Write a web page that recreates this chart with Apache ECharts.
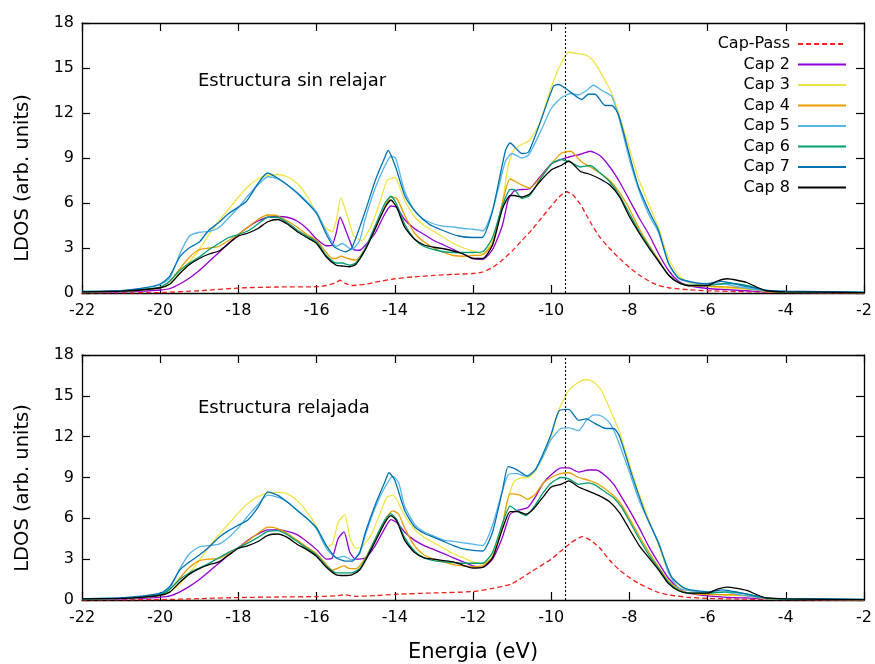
<!DOCTYPE html>
<html>
<head>
<meta charset="utf-8">
<script src="https://cdn.jsdelivr.net/npm/echarts@6/dist/echarts.min.js"></script>
<style>html,body{margin:0;padding:0;background:#fff}#c{width:875px;height:664px}</style>
</head>
<body>
<div id="c"></div>
<script>
// ---------- data ----------
const xTicks = [-22, -20, -18, -16, -14, -12, -10, -8, -6, -4, -2];
const yTicks = [0, 3, 6, 9, 12, 15, 18];
const fermiLevel = -9.65;
const seriesNames = ['Cap-Pass', 'Cap 2', 'Cap 3', 'Cap 4', 'Cap 5', 'Cap 6', 'Cap 7', 'Cap 8'];
const panelTitles = ['Estructura sin relajar', 'Estructura relajada'];

// Top panel (sin relajar): [energy, LDOS]
const top_pass = [[-22,0],[-20,0.03],[-19,0.15],[-18,0.33],[-17,0.4],[-16,0.42],[-15.75,0.5],[-15.5,0.7],[-15.4,0.85],[-15.25,0.62],[-15.1,0.5],[-14.75,0.58],[-14.5,0.72],[-14,0.95],[-13.5,1.08],[-13,1.17],[-12.5,1.24],[-12,1.3],[-11.75,1.4],[-11.5,1.7],[-11.25,2.2],[-11,2.8],[-10.75,3.5],[-10.5,4.2],[-10.25,5.0],[-10,5.8],[-9.8,6.4],[-9.62,6.75],[-9.45,6.55],[-9.25,5.9],[-9.1,5.2],[-8.95,4.5],[-8.75,3.7],[-8.5,2.95],[-8.25,2.3],[-8,1.7],[-7.75,1.2],[-7.5,0.8],[-7.25,0.5],[-7,0.35],[-6.5,0.22],[-6,0.15],[-5,0.08],[-4,0.03],[-2,0]];
const top_c2 = [[-22,0.05],[-21,0.08],[-20.5,0.12],[-20,0.2],[-19.75,0.3],[-19.5,0.6],[-19.25,1.0],[-19,1.5],[-18.75,2.1],[-18.5,2.7],[-18.25,3.3],[-18,3.9],[-17.75,4.4],[-17.5,4.8],[-17.25,5.05],[-17,5.1],[-16.75,5.05],[-16.5,4.8],[-16.25,4.3],[-16,3.6],[-15.75,3.15],[-15.6,3.2],[-15.5,4.0],[-15.4,5.05],[-15.2,3.8],[-15.05,2.9],[-14.9,2.85],[-14.75,3.2],[-14.5,4.0],[-14.25,5.3],[-14.1,5.8],[-13.95,5.7],[-13.75,4.9],[-13.5,4.3],[-13.25,3.9],[-13,3.5],[-12.75,3.2],[-12.5,2.9],[-12.25,2.6],[-12,2.3],[-11.75,2.25],[-11.5,2.9],[-11.25,4.5],[-11.1,6.2],[-10.95,6.8],[-10.75,6.9],[-10.55,6.95],[-10.3,7.7],[-10,8.6],[-9.75,8.9],[-9.5,9.1],[-9.25,9.25],[-9,9.45],[-8.75,9.15],[-8.5,8.4],[-8.25,7.4],[-8,6.2],[-7.75,5.0],[-7.5,3.9],[-7.25,2.6],[-7,1.5],[-6.75,0.8],[-6.5,0.5],[-6,0.3],[-5.5,0.22],[-5,0.15],[-4.5,0.08],[-4,0.05],[-2,0.02]];
const top_c3 = [[-22,0.08],[-21,0.12],[-20.5,0.2],[-20,0.35],[-19.75,0.6],[-19.5,1.3],[-19.25,2.1],[-19,2.9],[-18.75,3.9],[-18.5,4.8],[-18.25,5.6],[-18,6.4],[-17.75,7.1],[-17.5,7.6],[-17.25,7.85],[-17,7.9],[-16.75,7.75],[-16.5,7.3],[-16.25,6.5],[-16,5.3],[-15.75,4.3],[-15.6,4.1],[-15.5,4.8],[-15.38,6.35],[-15.2,5.0],[-15.05,3.8],[-14.85,3.5],[-14.6,4.5],[-14.4,5.9],[-14.2,7.5],[-14,7.7],[-13.75,6.2],[-13.5,5.1],[-13.25,4.5],[-13,4.1],[-12.75,3.7],[-12.5,3.3],[-12.25,3.0],[-12,2.8],[-11.75,2.6],[-11.5,3.5],[-11.25,6.0],[-11.1,8.5],[-10.95,9.6],[-10.75,9.9],[-10.55,10.2],[-10.3,11.3],[-10,13.7],[-9.75,15.3],[-9.55,16.05],[-9.3,15.95],[-9.1,15.85],[-8.9,15.4],[-8.65,14.3],[-8.45,13.3],[-8.25,11.8],[-8,9.6],[-7.75,7.5],[-7.5,5.9],[-7.25,4.3],[-7,2.3],[-6.75,1.2],[-6.5,0.7],[-6,0.45],[-5.6,0.35],[-5.2,0.3],[-4.5,0.12],[-4,0.08],[-2,0.03]];
const top_c4 = [[-22,0.08],[-21,0.12],[-20.5,0.2],[-20,0.35],[-19.75,0.8],[-19.5,1.6],[-19.25,2.4],[-19,2.9],[-18.75,3.0],[-18.5,3.1],[-18.25,3.5],[-18,3.9],[-17.75,4.4],[-17.5,4.9],[-17.25,5.2],[-17,5.15],[-16.75,4.8],[-16.5,4.4],[-16.25,3.9],[-16,3.5],[-15.75,2.7],[-15.6,2.3],[-15.5,2.3],[-15.38,2.45],[-15.2,2.3],[-15,2.2],[-14.75,3.0],[-14.5,4.3],[-14.25,5.8],[-14.1,6.4],[-13.95,6.3],[-13.75,5.2],[-13.5,4.0],[-13.25,3.4],[-13,3.0],[-12.75,2.7],[-12.5,2.5],[-12.25,2.45],[-12,2.5],[-11.75,2.55],[-11.5,3.3],[-11.25,6.0],[-11.05,7.6],[-10.75,7.2],[-10.55,7.0],[-10.3,7.6],[-10,8.6],[-9.75,9.3],[-9.5,9.45],[-9.25,8.8],[-9,8.4],[-8.75,8.0],[-8.5,7.5],[-8.25,6.7],[-8,5.6],[-7.75,4.3],[-7.5,3.2],[-7.25,2.2],[-7,1.2],[-6.75,0.7],[-6.5,0.5],[-6,0.45],[-5.5,0.4],[-5,0.3],[-4.5,0.1],[-4,0.05],[-2,0.02]];
const top_c5 = [[-22,0.1],[-21,0.15],[-20.5,0.28],[-20,0.55],[-19.75,1.0],[-19.5,2.6],[-19.25,3.8],[-19,4.05],[-18.75,4.1],[-18.5,4.35],[-18.25,5.0],[-18,5.7],[-17.75,6.5],[-17.5,7.2],[-17.25,7.75],[-17,7.6],[-16.75,7.2],[-16.5,6.7],[-16.25,6.1],[-16,5.4],[-15.75,4.1],[-15.5,3.1],[-15.35,3.3],[-15.1,2.9],[-14.9,3.5],[-14.75,5.0],[-14.5,7.0],[-14.25,8.5],[-14.1,9.1],[-13.98,9.0],[-13.75,6.8],[-13.5,5.5],[-13.25,4.9],[-13,4.6],[-12.75,4.45],[-12.5,4.4],[-12.25,4.3],[-12,4.25],[-11.75,4.15],[-11.5,5.5],[-11.17,8.8],[-11,9.3],[-10.75,9.0],[-10.58,9.2],[-10.32,10.5],[-10,12.3],[-9.75,13.0],[-9.5,13.3],[-9.3,13.2],[-9.1,13.5],[-8.92,13.85],[-8.7,13.5],[-8.45,13.1],[-8.25,11.5],[-8,8.9],[-7.75,6.8],[-7.5,5.2],[-7.25,4.0],[-7,2.0],[-6.75,1.0],[-6.5,0.75],[-6,0.6],[-5.6,0.6],[-5.2,0.4],[-4.5,0.15],[-4,0.1],[-2,0.04]];
const top_c6 = [[-22,0.08],[-21,0.12],[-20.5,0.22],[-20,0.4],[-19.75,0.8],[-19.5,1.5],[-19.25,2.0],[-19,2.4],[-18.75,2.9],[-18.5,3.3],[-18.25,3.7],[-18,3.9],[-17.75,4.15],[-17.5,4.6],[-17.25,5.05],[-17,5.05],[-16.75,4.7],[-16.5,4.2],[-16.25,3.8],[-16,3.4],[-15.75,2.5],[-15.5,2.0],[-15.35,2.0],[-15.15,1.85],[-15,2.0],[-14.75,3.0],[-14.5,4.5],[-14.25,6.0],[-14.1,6.45],[-13.95,5.9],[-13.75,4.6],[-13.5,3.6],[-13.25,3.1],[-13,2.9],[-12.75,2.75],[-12.5,2.7],[-12.25,2.7],[-12,2.7],[-11.75,2.75],[-11.5,3.7],[-11.25,5.8],[-11.05,6.9],[-10.95,6.9],[-10.75,6.3],[-10.55,6.5],[-10.3,7.5],[-10,8.6],[-9.75,8.9],[-9.5,8.7],[-9.25,8.4],[-9,8.5],[-8.75,8.0],[-8.5,7.4],[-8.25,6.5],[-8,5.3],[-7.75,4.1],[-7.5,3.1],[-7.25,2.1],[-7,1.2],[-6.75,0.7],[-6.5,0.5],[-6,0.5],[-5.5,0.65],[-5,0.5],[-4.5,0.15],[-4,0.08],[-2,0.03]];
const top_c7 = [[-22,0.1],[-21,0.16],[-20.5,0.3],[-20,0.6],[-19.77,1.07],[-19.5,2.4],[-19.26,3.0],[-19,3.4],[-18.75,4.2],[-18.5,4.7],[-18.25,5.3],[-17.8,6.1],[-17.55,7.1],[-17.26,8.0],[-16.96,7.6],[-16.6,6.9],[-16.28,6.1],[-16,5.3],[-15.77,4.0],[-15.56,3.1],[-15.26,2.75],[-15.1,3.0],[-14.75,5.5],[-14.5,7.5],[-14.28,8.9],[-14.17,9.5],[-13.98,8.4],[-13.73,6.4],[-13.43,5.3],[-13.13,4.6],[-12.8,4.2],[-12.37,3.8],[-12,3.7],[-11.77,3.7],[-11.5,5.5],[-11.17,9.5],[-11.05,10.0],[-10.75,9.3],[-10.58,9.4],[-10.32,11.1],[-9.94,13.8],[-9.81,13.9],[-9.56,13.5],[-9.22,12.9],[-9.05,13.25],[-8.88,13.25],[-8.62,12.5],[-8.45,12.5],[-8.28,11.9],[-8.03,9.5],[-7.77,7.1],[-7.47,5.3],[-7.26,4.2],[-7,1.96],[-6.75,1.02],[-6.4,0.73],[-6.03,0.62],[-5.64,0.78],[-5.13,0.5],[-4.45,0.18],[-4,0.12],[-2,0.05]];
const top_c8 = [[-22,0.08],[-21,0.12],[-20.5,0.2],[-20,0.35],[-19.75,0.6],[-19.5,1.3],[-19.25,1.9],[-19,2.3],[-18.75,2.6],[-18.5,2.8],[-18.25,3.3],[-18,3.8],[-17.75,4.0],[-17.5,4.3],[-17.25,4.75],[-17,4.9],[-16.75,4.6],[-16.5,4.1],[-16.25,3.7],[-16,3.3],[-15.75,2.4],[-15.5,1.85],[-15.35,1.8],[-15.15,1.75],[-15,1.9],[-14.75,2.9],[-14.5,4.3],[-14.25,5.7],[-14.1,6.2],[-13.95,5.7],[-13.75,4.4],[-13.5,3.6],[-13.25,3.2],[-13,3.05],[-12.75,2.95],[-12.5,2.8],[-12.25,2.6],[-12,2.3],[-11.75,2.3],[-11.5,3.2],[-11.25,5.6],[-11.05,6.5],[-10.95,6.5],[-10.75,6.4],[-10.55,6.6],[-10.3,7.4],[-10,8.2],[-9.75,8.5],[-9.55,8.8],[-9.25,8.1],[-9,7.9],[-8.75,7.6],[-8.5,7.2],[-8.25,6.4],[-8,5.1],[-7.75,4.0],[-7.5,3.0],[-7.25,2.1],[-7,1.2],[-6.75,0.7],[-6.5,0.5],[-6,0.5],[-5.75,0.8],[-5.5,0.95],[-5.25,0.85],[-5,0.7],[-4.75,0.4],[-4.5,0.15],[-4,0.08],[-2,0.03]];

// Bottom panel (relajada)
const bot_pass = [[-22,0],[-20,0.03],[-19,0.1],[-18,0.18],[-17,0.22],[-16,0.25],[-15.5,0.3],[-15.3,0.38],[-15,0.27],[-14.5,0.32],[-14,0.42],[-13,0.52],[-12,0.62],[-11.5,0.85],[-11,1.2],[-10.5,2.1],[-10,3.0],[-9.75,3.6],[-9.5,4.2],[-9.2,4.65],[-9,4.4],[-8.75,3.8],[-8.5,2.9],[-8.25,2.2],[-8,1.65],[-7.75,1.2],[-7.5,0.85],[-7.25,0.55],[-7,0.38],[-6.5,0.2],[-6,0.12],[-5,0.06],[-4,0.03],[-2,0]];
const bot_c2 = [[-22,0.05],[-21,0.08],[-20.5,0.12],[-20,0.2],[-19.75,0.3],[-19.5,0.6],[-19.25,1.0],[-19,1.5],[-18.75,2.1],[-18.5,2.7],[-18.25,3.3],[-18,3.85],[-17.75,4.4],[-17.5,4.85],[-17.25,5.15],[-17,5.15],[-16.75,5.05],[-16.5,4.8],[-16.25,4.3],[-16,3.7],[-15.75,3.0],[-15.6,3.1],[-15.45,4.5],[-15.3,5.0],[-15.15,3.5],[-15,3.0],[-14.75,3.1],[-14.5,4.0],[-14.25,5.3],[-14.1,5.9],[-13.95,5.7],[-13.75,5.0],[-13.5,4.4],[-13.25,4.0],[-13,3.7],[-12.75,3.4],[-12.5,3.1],[-12.25,2.8],[-12,2.5],[-11.75,2.4],[-11.5,3.0],[-11.25,4.6],[-11.05,6.3],[-10.85,6.6],[-10.6,6.8],[-10.4,7.6],[-10.2,8.6],[-10,9.2],[-9.75,9.7],[-9.55,9.7],[-9.3,9.4],[-9.05,9.55],[-8.85,9.55],[-8.6,9.1],[-8.4,8.5],[-8.25,7.8],[-8,6.6],[-7.75,5.3],[-7.5,3.9],[-7.25,2.7],[-7,1.6],[-6.75,0.9],[-6.5,0.5],[-6,0.3],[-5.5,0.2],[-5,0.15],[-4,0.05],[-2,0.02]];
const bot_c3 = [[-22,0.08],[-21,0.12],[-20.5,0.2],[-20,0.35],[-19.75,0.6],[-19.5,1.2],[-19.25,2.0],[-19,2.9],[-18.75,3.9],[-18.5,4.8],[-18.25,5.6],[-18,6.4],[-17.75,7.1],[-17.5,7.6],[-17.25,7.85],[-17,7.9],[-16.75,7.8],[-16.5,7.3],[-16.25,6.5],[-16,5.4],[-15.75,3.9],[-15.6,4.1],[-15.45,5.7],[-15.28,6.25],[-15.15,4.6],[-15,3.8],[-14.85,3.9],[-14.6,4.8],[-14.4,6.2],[-14.2,7.55],[-14.05,7.7],[-13.75,6.2],[-13.5,5.2],[-13.25,4.6],[-13,4.2],[-12.75,3.8],[-12.5,3.4],[-12.25,3.1],[-12,2.8],[-11.75,2.65],[-11.5,3.2],[-11.25,5.5],[-11.1,7.5],[-10.95,8.7],[-10.75,9.0],[-10.6,9.0],[-10.4,9.5],[-10.2,10.6],[-10,12.0],[-9.8,14.0],[-9.55,15.4],[-9.3,16.0],[-9.13,16.2],[-8.9,16.0],[-8.7,15.3],[-8.45,13.7],[-8.25,12.3],[-8,10.0],[-7.75,7.8],[-7.5,5.9],[-7.25,4.0],[-7,2.0],[-6.75,1.1],[-6.5,0.7],[-6,0.45],[-5.5,0.35],[-5,0.3],[-4.5,0.1],[-4,0.06],[-2,0.03]];
const bot_c4 = [[-22,0.08],[-21,0.12],[-20.5,0.2],[-20,0.35],[-19.75,0.8],[-19.5,1.6],[-19.25,2.4],[-19,2.9],[-18.75,3.0],[-18.5,3.05],[-18.25,3.4],[-18,3.85],[-17.75,4.35],[-17.5,4.9],[-17.25,5.35],[-17,5.25],[-16.75,4.9],[-16.5,4.4],[-16.25,3.9],[-16,3.4],[-15.75,2.6],[-15.6,2.2],[-15.45,2.35],[-15.3,2.5],[-15.15,2.3],[-15,2.3],[-14.75,3.1],[-14.5,4.5],[-14.25,5.9],[-14.05,6.55],[-13.9,6.3],[-13.75,5.3],[-13.5,4.0],[-13.25,3.3],[-13,3.0],[-12.75,2.8],[-12.5,2.6],[-12.25,2.5],[-12,2.45],[-11.75,2.5],[-11.5,3.2],[-11.25,5.5],[-11.05,7.8],[-10.8,7.7],[-10.6,7.4],[-10.4,7.8],[-10.2,8.6],[-10,9.0],[-9.75,9.3],[-9.55,9.35],[-9.3,9.0],[-9.05,8.8],[-8.8,8.5],[-8.5,7.9],[-8.25,7.2],[-8,6.0],[-7.75,4.7],[-7.5,3.5],[-7.25,2.4],[-7,1.4],[-6.75,0.8],[-6.5,0.5],[-6,0.4],[-5.5,0.4],[-5,0.3],[-4.5,0.1],[-4,0.05],[-2,0.02]];
const bot_c5 = [[-22,0.1],[-21,0.15],[-20.5,0.25],[-20,0.45],[-19.75,0.9],[-19.5,2.3],[-19.25,3.4],[-19,3.9],[-18.75,4.0],[-18.5,4.1],[-18.25,4.6],[-18,5.3],[-17.75,6.2],[-17.5,7.0],[-17.25,7.7],[-17,7.55],[-16.75,7.2],[-16.5,6.6],[-16.25,6.0],[-16,5.2],[-15.75,3.8],[-15.5,3.1],[-15.3,3.2],[-15.1,2.95],[-14.9,3.4],[-14.75,4.8],[-14.5,6.8],[-14.25,8.3],[-14.05,9.1],[-13.9,8.6],[-13.75,6.9],[-13.5,5.6],[-13.25,5.0],[-13,4.7],[-12.75,4.4],[-12.5,4.3],[-12.25,4.2],[-12,4.1],[-11.75,4.0],[-11.5,5.5],[-11.25,8.0],[-11.1,9.2],[-10.9,9.3],[-10.65,9.1],[-10.4,9.6],[-10.2,10.6],[-10,11.8],[-9.75,12.6],[-9.55,12.65],[-9.3,12.45],[-9.1,13.2],[-8.9,13.6],[-8.7,13.5],[-8.5,13.0],[-8.3,11.8],[-8,9.4],[-7.75,7.3],[-7.5,5.7],[-7.25,4.2],[-7,2.0],[-6.75,0.9],[-6.5,0.7],[-6,0.55],[-5.6,0.6],[-5.2,0.4],[-4.5,0.12],[-4,0.08],[-2,0.04]];
const bot_c6 = [[-22,0.08],[-21,0.12],[-20.5,0.22],[-20,0.4],[-19.75,0.8],[-19.5,1.5],[-19.25,2.0],[-19,2.35],[-18.75,2.7],[-18.5,3.1],[-18.25,3.5],[-18,3.85],[-17.75,4.2],[-17.5,4.6],[-17.25,5.05],[-17,5.1],[-16.75,4.8],[-16.5,4.3],[-16.25,3.8],[-16,3.3],[-15.75,2.5],[-15.5,2.0],[-15.3,2.0],[-15.1,2.0],[-14.9,2.3],[-14.75,3.0],[-14.5,4.5],[-14.25,5.9],[-14.1,6.35],[-13.95,5.9],[-13.75,4.6],[-13.5,3.6],[-13.25,3.1],[-13,2.9],[-12.75,2.8],[-12.5,2.75],[-12.25,2.7],[-12,2.7],[-11.75,2.7],[-11.5,3.5],[-11.25,5.6],[-11.05,6.9],[-10.85,6.5],[-10.65,6.2],[-10.45,6.8],[-10.2,7.9],[-10,8.6],[-9.75,9.0],[-9.55,8.9],[-9.3,8.5],[-9.05,8.6],[-8.85,8.4],[-8.6,7.9],[-8.4,7.5],[-8.2,6.8],[-8,5.8],[-7.75,4.5],[-7.5,3.3],[-7.25,2.3],[-7,1.3],[-6.75,0.7],[-6.5,0.5],[-6,0.5],[-5.5,0.6],[-5,0.45],[-4.5,0.12],[-4,0.06],[-2,0.03]];
const bot_c7 = [[-22,0.1],[-21,0.16],[-20.5,0.28],[-20,0.5],[-19.75,1.0],[-19.5,2.2],[-19.25,2.8],[-19,3.3],[-18.75,3.9],[-18.5,4.6],[-18.25,5.1],[-18,5.5],[-17.75,5.9],[-17.5,6.8],[-17.25,7.95],[-17,7.7],[-16.75,7.2],[-16.5,6.6],[-16.25,6.0],[-16,5.3],[-15.75,4.0],[-15.5,3.1],[-15.25,2.85],[-15.1,2.85],[-14.9,3.5],[-14.75,5.0],[-14.5,7.0],[-14.25,8.7],[-14.15,9.35],[-14,8.8],[-13.75,6.6],[-13.5,5.4],[-13.25,4.9],[-13,4.6],[-12.75,4.3],[-12.5,4.0],[-12.25,3.75],[-12,3.65],[-11.75,3.6],[-11.5,5.0],[-11.25,8.0],[-11.1,9.8],[-10.9,9.6],[-10.6,9.1],[-10.4,9.6],[-10.2,10.8],[-10,12.2],[-9.8,13.9],[-9.55,14.0],[-9.3,13.2],[-9.1,13.3],[-8.9,13.0],[-8.6,12.6],[-8.4,12.6],[-8.25,12.0],[-7.95,9.3],[-7.6,6.4],[-7.26,4.2],[-6.92,1.7],[-6.58,0.86],[-6,0.6],[-5.6,0.75],[-5.2,0.55],[-4.5,0.15],[-4,0.1],[-2,0.05]];
const bot_c8 = [[-22,0.08],[-21,0.12],[-20.5,0.2],[-20,0.35],[-19.75,0.6],[-19.5,1.3],[-19.25,1.9],[-19,2.3],[-18.75,2.6],[-18.5,2.8],[-18.25,3.3],[-18,3.8],[-17.75,4.0],[-17.5,4.3],[-17.25,4.75],[-17,4.85],[-16.75,4.6],[-16.5,4.1],[-16.25,3.7],[-16,3.2],[-15.75,2.4],[-15.5,1.85],[-15.3,1.8],[-15.1,1.85],[-14.9,2.2],[-14.75,2.9],[-14.5,4.3],[-14.25,5.7],[-14.1,6.2],[-13.95,5.8],[-13.75,4.4],[-13.5,3.5],[-13.25,3.1],[-13,3.0],[-12.75,2.9],[-12.5,2.8],[-12.25,2.55],[-12,2.35],[-11.75,2.4],[-11.5,3.1],[-11.25,5.2],[-11.05,6.5],[-10.85,6.5],[-10.65,6.3],[-10.45,6.7],[-10.2,7.6],[-10,8.3],[-9.75,8.5],[-9.55,8.75],[-9.3,8.3],[-9.05,8.0],[-8.8,7.7],[-8.5,7.2],[-8.25,6.4],[-8,5.2],[-7.75,4.0],[-7.5,3.1],[-7.25,2.2],[-7,1.2],[-6.75,0.7],[-6.5,0.5],[-6,0.5],[-5.75,0.8],[-5.5,0.95],[-5.25,0.85],[-5,0.7],[-4.75,0.4],[-4.5,0.15],[-4,0.08],[-2,0.03]];

const topData = [top_pass, top_c2, top_c3, top_c4, top_c5, top_c6, top_c7, top_c8];
const botData = [bot_pass, bot_c2, bot_c3, bot_c4, bot_c5, bot_c6, bot_c7, bot_c8];

// ---------- styling ----------
const colors = ['#f0201a', '#9400d3', '#f0e442', '#e69f00', '#56b4e9', '#009e73', '#0072b2', '#000000'];
const FONT = 'DejaVu Sans';

function xAx(gridIndex, pos, showLabel) {
  return {
    type: 'value', gridIndex: gridIndex, position: pos,
    min: xTicks[0], max: xTicks[xTicks.length - 1], interval: 2,
    axisLine: { show: true, onZero: false, lineStyle: { color: '#000', width: 1.3 } },
    axisTick: { show: true, inside: true, length: 8, lineStyle: { color: '#000', width: 1.2 } },
    axisLabel: { show: showLabel, color: '#000', fontSize: 16, fontFamily: FONT, margin: 10 },
    splitLine: { show: false }
  };
}
function yAx(gridIndex, pos, showLabel) {
  return {
    type: 'value', gridIndex: gridIndex, position: pos,
    min: yTicks[0], max: yTicks[yTicks.length - 1], interval: 3,
    axisLine: { show: true, onZero: false, lineStyle: { color: '#000', width: 1.3 } },
    axisTick: { show: true, inside: true, length: 8, lineStyle: { color: '#000', width: 1.2 } },
    axisLabel: { show: showLabel, color: '#000', fontSize: 16, fontFamily: FONT, margin: 8 },
    splitLine: { show: false }
  };
}

const series = [];
[topData, botData].forEach(function (panel, p) {
  panel.forEach(function (d, i) {
    const s = {
      type: 'line', name: seriesNames[i], data: d,
      xAxisIndex: p * 2, yAxisIndex: p * 2,
      showSymbol: false, symbol: 'none', smooth: 0.2,
      lineStyle: { color: colors[i], width: 1.3, type: i === 0 ? [5, 3] : 'solid' },
      itemStyle: { color: colors[i] },
      z: 2 + i
    };
    if (i === 0) {
      s.markLine = {
        silent: true, symbol: 'none', label: { show: false },
        lineStyle: { color: '#000', width: 1.1, type: [2, 2] },
        data: [{ xAxis: fermiLevel }]
      };
    }
    series.push(s);
  });
});

const chart = echarts.init(document.getElementById('c'), null, { renderer: 'canvas' });
chart.setOption({
  animation: false,
  backgroundColor: '#fff',
  grid: [
    { left: 82, top: 23, width: 784, height: 270 },
    { left: 82, top: 355, width: 784, height: 245 }
  ],
  xAxis: [xAx(0, 'bottom', true), xAx(0, 'top', false),
          Object.assign(xAx(1, 'bottom', true), { name: 'Energia (eV)', nameLocation: 'middle', nameGap: 42,
            nameTextStyle: { color: '#000', fontSize: 21, fontFamily: FONT } }),
          xAx(1, 'top', false)],
  yAxis: [yAx(0, 'left', true), yAx(0, 'right', false), yAx(1, 'left', true), yAx(1, 'right', false)],
  legend: {
    orient: 'vertical', right: 23, top: 31, align: 'right',
    itemWidth: 48, itemHeight: 14, itemGap: 4.5,
    data: seriesNames,
    itemStyle: { opacity: 0, borderWidth: 0 },
    textStyle: { color: '#000', fontSize: 16, fontFamily: FONT, padding: [0, 3, 0, 0] },
    selectedMode: false
  },
  graphic: [
    { type: 'text', left: 198, top: 72, style: { text: panelTitles[0], fontSize: 18, fontFamily: FONT, fill: '#000' } },
    { type: 'text', left: 198, top: 399, style: { text: panelTitles[1], fontSize: 18, fontFamily: FONT, fill: '#000' } },
    { type: 'text', x: 23, y: 178, rotation: Math.PI / 2, style: { text: 'LDOS (arb. units)', fontSize: 19.5, fontFamily: FONT, fill: '#000', align: 'center', verticalAlign: 'middle' } },
    { type: 'text', x: 23, y: 488, rotation: Math.PI / 2, style: { text: 'LDOS (arb. units)', fontSize: 19.5, fontFamily: FONT, fill: '#000', align: 'center', verticalAlign: 'middle' } }
  ],
  series: series
});
</script>
</body>
</html>
